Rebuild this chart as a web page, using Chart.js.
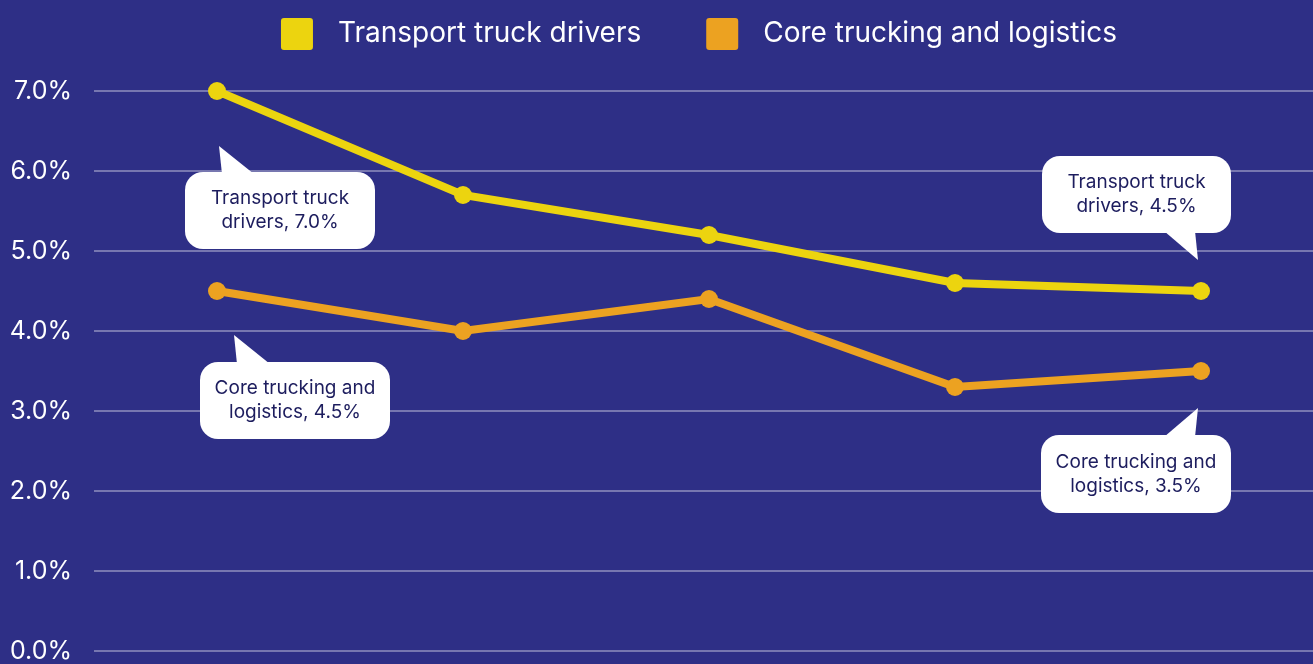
<!DOCTYPE html>
<html>
<head>
<meta charset="utf-8">
<script src="https://cdn.jsdelivr.net/npm/chart.js@4.4.1/dist/chart.umd.min.js"></script>
<style>
  html, body { margin: 0; padding: 0; background: #2e2f86; overflow: hidden; }
  canvas { display: block; }
</style>
</head>
<body>
<canvas id="chart" width="1324" height="664"></canvas>
<script>
// x labels are cut off in the source picture, so they stay hidden
const categories = ["1", "2", "3", "4", "5"];
const truckDrivers = [7.0, 5.7, 5.2, 4.6, 4.5];
const coreLogistics = [4.5, 4.0, 4.4, 3.3, 3.5];
const seriesNames = ["Transport truck drivers", "Core trucking and logistics"];
const yTicks = [0, 1, 2, 3, 4, 5, 6, 7];

const FONT = "Inter, 'Noto Sans', sans-serif";
const YELLOW = "#ecd40f";
const ORANGE = "#eca221";

// speech-bubble callouts, placed relative to their data point
const callouts = [
  { ds: 0, i: 0, box: [-32, 81, 190, 77], tip: [2, 55], base: [5, 37] },
  { ds: 1, i: 0, box: [-17, 71, 190, 77], tip: [17, 44], base: [20, 53] },
  { ds: 0, i: 4, box: [-159, -135, 189, 77], tip: [-3, -31], base: [-37, -6] },
  { ds: 1, i: 4, box: [-160, 64, 190, 78], tip: [-3, 37], base: [-37, -6] },
];

const calloutPlugin = {
  id: "callouts",
  afterDatasetsDraw(chart) {
    const ctx = chart.ctx;
    ctx.save();
    callouts.forEach(c => {
      const pt = chart.getDatasetMeta(c.ds).data[c.i];
      const px = pt.x, py = pt.y;
      const [dx, dy, w, h] = c.box;
      const bx = px + dx, by = py + dy;
      const tipUp = c.tip[1] < dy;
      const edgeY = tipUp ? by + 2 : by + h - 2;
      ctx.fillStyle = "#ffffff";
      ctx.beginPath();
      ctx.roundRect(bx, by, w, h, 18);
      ctx.fill();
      ctx.beginPath();
      ctx.moveTo(px + c.tip[0], py + c.tip[1]);
      ctx.lineTo(px + c.base[0], edgeY);
      ctx.lineTo(px + c.base[1], edgeY);
      ctx.closePath();
      ctx.fill();

      const value = chart.data.datasets[c.ds].data[c.i].toFixed(1) + "%";
      const lines = c.ds === 0
        ? ["Transport truck", "drivers, " + value]
        : ["Core trucking and", "logistics, " + value];
      ctx.fillStyle = "#1d1d5e";
      ctx.font = "19px " + FONT;
      ctx.textAlign = "center";
      ctx.textBaseline = "middle";
      const cx = bx + w / 2, cy = by + h / 2;
      ctx.fillText(lines[0], cx, cy - 12);
      ctx.fillText(lines[1], cx, cy + 12);
    });
    ctx.restore();
  }
};

// legend drawn by hand so the box/text spacing matches
const legendPlugin = {
  id: "topLegend",
  afterDraw(chart) {
    const ctx = chart.ctx;
    ctx.save();
    ctx.font = "28px " + FONT;
    ctx.textBaseline = "middle";
    ctx.textAlign = "left";
    const items = chart.data.datasets.map(d => ({ text: d.label, color: d.borderColor }));
    const widths = items.map(it => 57 + ctx.measureText(it.text).width);
    const total = widths.reduce((a, b) => a + b, 0) + 65 * (items.length - 1);
    let x = 699 - total / 2;
    items.forEach((it, k) => {
      ctx.fillStyle = it.color;
      ctx.beginPath();
      ctx.roundRect(x, 18, 32, 32, 3);
      ctx.fill();
      ctx.fillStyle = "#ffffff";
      ctx.fillText(it.text, x + 57, 34);
      x += widths[k] + 65;
    });
    ctx.restore();
  }
};

new Chart(document.getElementById("chart"), {
  type: "line",
  data: {
    labels: categories,
    datasets: [
      {
        label: seriesNames[0],
        data: truckDrivers,
        borderColor: YELLOW,
        backgroundColor: YELLOW,
        borderWidth: 8,
        pointRadius: 9,
        pointHoverRadius: 9,
        pointBorderWidth: 0,
        clip: false,
      },
      {
        label: seriesNames[1],
        data: coreLogistics,
        borderColor: ORANGE,
        backgroundColor: ORANGE,
        borderWidth: 8,
        pointRadius: 9,
        pointHoverRadius: 9,
        pointBorderWidth: 0,
        clip: false,
      },
    ],
  },
  options: {
    responsive: false,
    animation: false,
    layout: { autoPadding: false, padding: { left: 0, right: 0, top: 91, bottom: 13 } },
    plugins: {
      tooltip: { enabled: false },
      legend: { display: false },
    },
    scales: {
      x: {
        display: false,
        offset: true,
      },
      y: {
        min: 0,
        max: 7,
        afterBuildTicks(axis) {
          axis.ticks = yTicks.map(v => ({ value: v }));
        },
        afterFit(axis) {
          axis.width = 94;
          axis.paddingTop = 0;
          axis.paddingBottom = 0;
        },
        border: { display: false },
        grid: {
          color: "rgba(255,255,255,0.35)",
          lineWidth: 2,
          drawTicks: false,
        },
        ticks: {
          color: "#ffffff",
          padding: 22,
          font: { family: FONT, size: 25 },
          callback: v => v.toFixed(1) + "%",
        },
      },
    },
  },
  plugins: [calloutPlugin, legendPlugin],
});
</script>
</body>
</html>
